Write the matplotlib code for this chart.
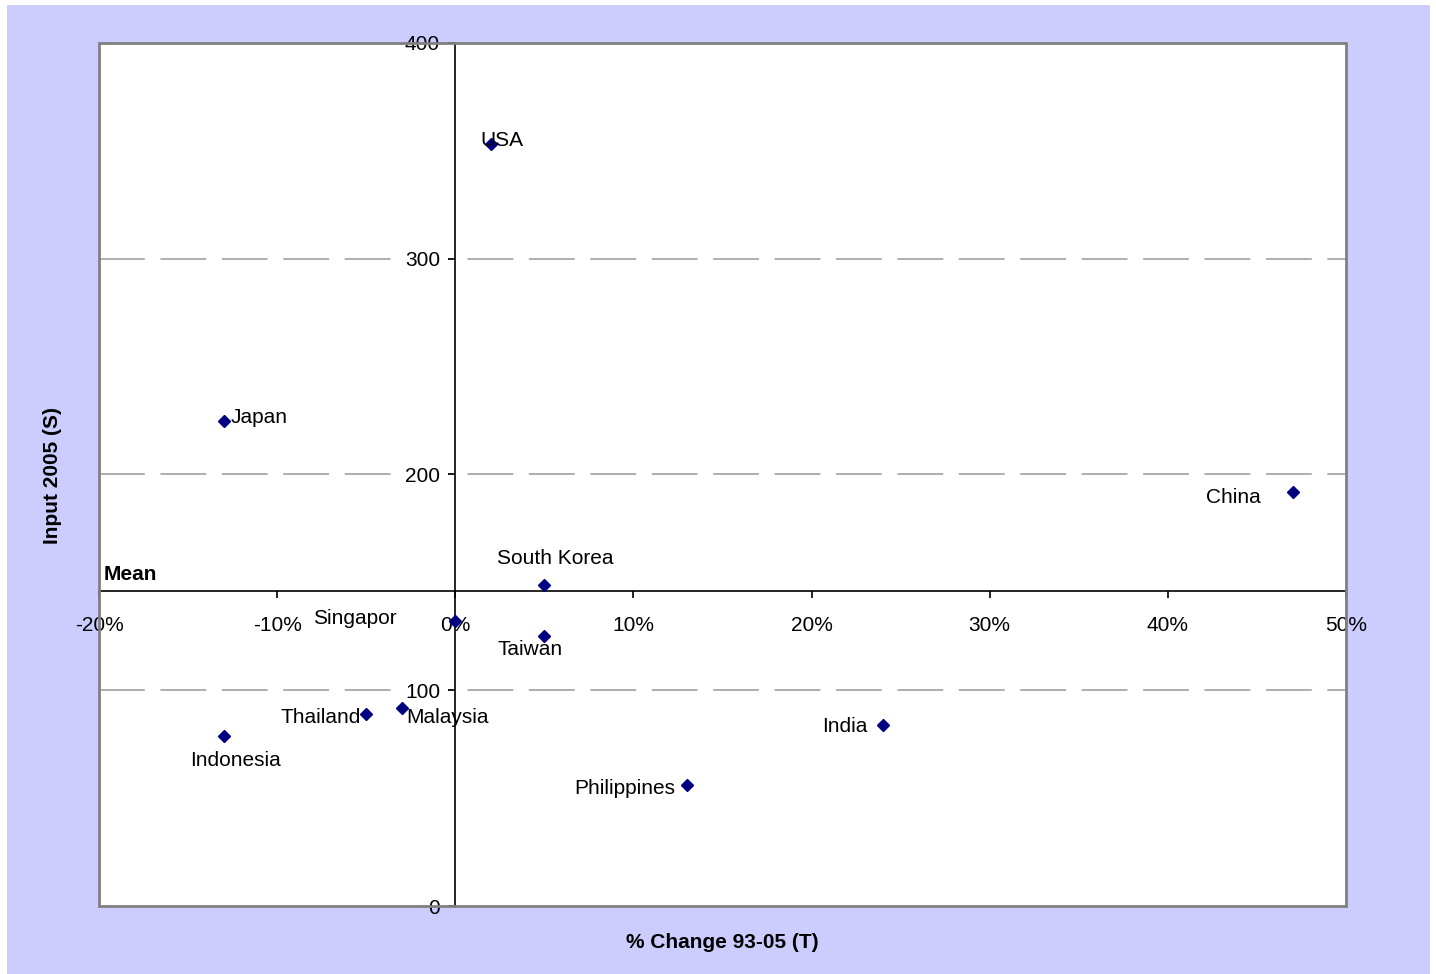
import matplotlib.pyplot as plt
from matplotlib.patches import Rectangle

plt.rcParams['font.family'] = ['Liberation Sans', 'DejaVu Sans']

# countries, % change 93-05 (T) and input 2005 (S)
countries = ['USA', 'Japan', 'China', 'South Korea', 'Taiwan', 'Singapor',
             'Thailand', 'Malaysia', 'Indonesia', 'India', 'Philippines']
change = [0.02, -0.13, 0.47, 0.05, 0.05, 0.0,
          -0.05, -0.03, -0.13, 0.24, 0.13]
input_2005 = [353, 225, 192, 149, 125, 132,
              89, 92, 79, 84, 56]

mean_input = 146

# label placement, pixels from the marker
label_pos = {
    'USA': (-11, 4, 'left'),
    'Japan': (7, 3, 'left'),
    'China': (-32, -6, 'right'),
    'South Korea': (11, 26, 'center'),
    'Taiwan': (-14, -13, 'center'),
    'Singapor': (-100, 3, 'center'),
    'Thailand': (-5, -4, 'right'),
    'Malaysia': (4, -10, 'left'),
    'Indonesia': (12, -25, 'center'),
    'India': (-15, -2, 'right'),
    'Philippines': (-12, -3, 'right'),
}

x_ticks = [-0.2, -0.1, 0.0, 0.1, 0.2, 0.3, 0.4, 0.5]
x_labels = ['-20%', '-10%', '0%', '10%', '20%', '30%', '40%', '50%']
y_ticks = [0, 100, 200, 300, 400]
grid_y = [100, 200, 300]

W, H = 1436, 974
fig = plt.figure(figsize=(W / 100, H / 100), dpi=100, facecolor='white')

# lavender chart area, kept behind the axes
fig.patches.append(Rectangle((7 / W, 0), (1430 - 7) / W, (H - 5) / H,
                             transform=fig.transFigure, facecolor='#ccccff',
                             edgecolor='none', zorder=-10))

ax = fig.add_axes([99 / W, (H - 906) / H, 1247 / W, 863 / H])
ax.set_facecolor('white')
ax.set_xlim(-0.2, 0.5)
ax.set_ylim(0, 400)

# axes cross at 0% and at the mean
ax.spines['left'].set_position(('data', 0))
ax.spines['bottom'].set_position(('data', mean_input))
ax.spines['top'].set_visible(False)
ax.spines['right'].set_visible(False)
for s in ['left', 'bottom']:
    ax.spines[s].set_linewidth(1.2)
    ax.spines[s].set_color('black')

# plot area border
ax.add_patch(Rectangle((0, 0), 1, 1, transform=ax.transAxes, fill=False,
                       edgecolor='#808080', linewidth=2, clip_on=False, zorder=5))

# dashed gridlines (dashes get scaled by the linewidth)
for y in grid_y:
    ax.axhline(y, color='#999999', linewidth=1.1, dashes=(30, 10.2), zorder=1)

ax.set_xticks(x_ticks)
ax.set_xticklabels(x_labels)
ax.set_yticks(y_ticks)
ax.tick_params(axis='x', direction='out', length=5, width=1.2, pad=13, labelsize=15)
ax.tick_params(axis='y', direction='out', length=5, width=1.2, pad=6, labelsize=15)

# labels on the gridlines sit on a white box
for val, lab in zip(y_ticks, ax.get_yticklabels()):
    if val in grid_y:
        lab.set_bbox(dict(facecolor='white', edgecolor='none', pad=6))

ax.plot(change, input_2005, linestyle='none', marker='D', markersize=6.5,
        color='#000080', zorder=4)

for name, x, y in zip(countries, change, input_2005):
    dx, dy, ha = label_pos[name]
    ax.annotate(name, (x, y), xytext=(dx, dy), textcoords='offset pixels',
                ha=ha, va='center', fontsize=15, zorder=6)

ax.annotate('Mean', (-0.2, mean_input), xytext=(5, 17), textcoords='offset pixels',
            ha='left', va='center', fontsize=15, fontweight='bold')

fig.text(722 / W, 1 - 942 / H, '% Change 93-05 (T)', ha='center', va='center',
         fontsize=15, fontweight='bold')
fig.text(52 / W, 1 - 475 / H, 'Input 2005 (S)', ha='center', va='center',
         rotation=90, fontsize=15, fontweight='bold')

plt.savefig('out.png', dpi=100)
